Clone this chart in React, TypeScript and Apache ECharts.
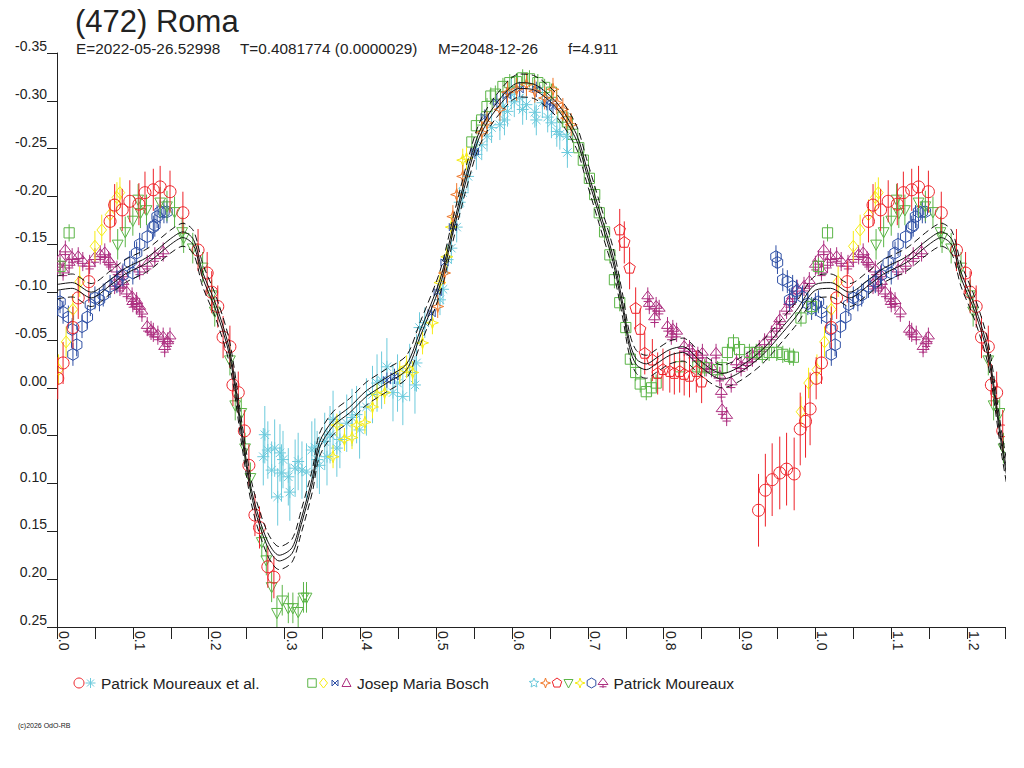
import { useEffect, useRef } from 'react';
import * as echarts from 'echarts';

type Pt = [number, number];

// phase, reduced magnitude
const redCircles: Pt[] = [
  [0.001, -0.010], [0.008, -0.026], [0.021, -0.063], [0.028, -0.094], [0.042, -0.111], [0.070, -0.174],
  [0.076, -0.191], [0.086, -0.186], [0.096, -0.195], [0.108, -0.192], [0.116, -0.204], [0.127, -0.207],
  [0.136, -0.210], [0.149, -0.205], [0.166, -0.183], [0.186, -0.144], [0.198, -0.120], [0.204, -0.100],
  [0.212, -0.085], [0.219, -0.053], [0.228, -0.043], [0.232, -0.003], [0.239, 0.005], [0.247, 0.045],
  [0.253, 0.081], [0.261, 0.133], [0.267, 0.146], [0.278, 0.187], [0.286, 0.198],
];
const redCirclesLate: Pt[] = [
  [0.925, 0.128], [0.934, 0.107], [0.943, 0.096], [0.953, 0.089], [0.962, 0.085], [0.972, 0.090],
  [0.980, 0.043], [0.987, 0.035], [0.993, 0.022],
];
const cyanMinimum: Pt[] = [
  [0.274, 0.049], [0.272, 0.072], [0.278, 0.065], [0.283, 0.086], [0.287, 0.063], [0.291, 0.114],
  [0.294, 0.068], [0.296, 0.089], [0.298, 0.075], [0.305, 0.093], [0.307, 0.109], [0.314, 0.084],
  [0.318, 0.077], [0.323, 0.086], [0.329, 0.088], [0.336, 0.065], [0.340, 0.062], [0.343, 0.075],
  [0.346, 0.081], [0.353, 0.056], [0.356, 0.072], [0.360, 0.049], [0.364, 0.033], [0.369, 0.063],
  [0.373, 0.054], [0.382, 0.037], [0.389, 0.031], [0.395, 0.028], [0.399, 0.044], [0.408, 0.020],
  [0.416, 0.007], [0.422, -0.005], [0.428, -0.008], [0.435, -0.022], [0.443, 0.005], [0.449, -0.005],
  [0.456, 0.009], [0.465, -0.016], [0.472, -0.003], [0.474, -0.026],
];
const cyanPeak: Pt[] = [
  [0.478, -0.063], [0.485, -0.068], [0.505, -0.092], [0.509, -0.103], [0.515, -0.134], [0.520, -0.146],
  [0.527, -0.168], [0.531, -0.194], [0.535, -0.204], [0.542, -0.221], [0.553, -0.244], [0.560, -0.254],
  [0.567, -0.263], [0.573, -0.272], [0.584, -0.275], [0.588, -0.294], [0.590, -0.280], [0.594, -0.289],
  [0.599, -0.307], [0.603, -0.299], [0.610, -0.303], [0.614, -0.291], [0.619, -0.296], [0.630, -0.288],
  [0.632, -0.280], [0.640, -0.298], [0.647, -0.283], [0.652, -0.277], [0.659, -0.268], [0.663, -0.265],
  [0.672, -0.263], [0.673, -0.246],
];
const greenSquares: Pt[] = [
  [0.004, -0.127], [0.016, -0.162], [0.547, -0.257], [0.553, -0.274], [0.560, -0.280], [0.567, -0.294],
  [0.572, -0.305], [0.578, -0.307], [0.588, -0.315], [0.597, -0.319], [0.606, -0.320], [0.614, -0.324],
  [0.623, -0.323], [0.634, -0.319], [0.643, -0.314], [0.652, -0.309], [0.667, -0.283], [0.673, -0.278],
  [0.680, -0.265], [0.688, -0.251], [0.694, -0.238], [0.702, -0.219], [0.709, -0.202], [0.715, -0.183],
  [0.722, -0.163], [0.729, -0.139], [0.735, -0.113], [0.742, -0.089], [0.750, -0.063], [0.756, -0.030],
  [0.763, -0.016], [0.769, -0.004], [0.777, 0.004], [0.784, 0.000], [0.790, -0.005], [0.821, -0.022],
  [0.845, -0.022], [0.854, -0.021], [0.871, -0.019], [0.877, -0.021], [0.884, -0.037], [0.892, -0.047],
  [0.900, -0.040], [0.913, -0.037], [0.922, -0.037], [0.930, -0.035], [0.939, -0.037], [0.949, -0.037],
  [0.957, -0.035], [0.966, -0.033], [0.971, -0.032], [0.981, -0.073], [0.995, -0.085],
];
const yellowDiamonds: Pt[] = [
  [0.002, -0.019], [0.012, -0.048], [0.021, -0.082], [0.030, -0.111], [0.050, -0.148], [0.059, -0.165],
  [0.070, -0.181], [0.079, -0.199], [0.083, -0.204], [0.981, 0.025], [0.991, -0.005],
];
const blueBowties: Pt[] = [
  [0.435, -0.008], [0.445, -0.012], [0.494, -0.078], [0.502, -0.100], [0.511, -0.131], [0.522, -0.168],
  [0.551, -0.247], [0.564, -0.283], [0.580, -0.299], [0.593, -0.306], [0.610, -0.312], [0.632, -0.312],
  [0.646, -0.298], [0.654, -0.294],
];
const orangeStars: Pt[] = [
  [0.502, -0.085], [0.511, -0.120], [0.522, -0.179], [0.527, -0.202], [0.535, -0.221], [0.560, -0.267],
  [0.567, -0.277], [0.584, -0.291], [0.594, -0.309], [0.606, -0.312], [0.619, -0.317], [0.630, -0.310],
  [0.643, -0.303], [0.654, -0.312], [0.659, -0.298], [0.667, -0.291], [0.672, -0.282], [0.678, -0.275],
];
const redPentagons: Pt[] = [
  [0.742, -0.165], [0.748, -0.152], [0.755, -0.125], [0.763, -0.083], [0.769, -0.061], [0.775, -0.036],
  [0.785, -0.029], [0.792, -0.015], [0.799, -0.019], [0.808, -0.017], [0.814, -0.015], [0.821, -0.017],
  [0.827, -0.014], [0.834, -0.012], [0.843, -0.017], [0.850, -0.006],
];
const greenTriangles: Pt[] = [
  [0.080, -0.150], [0.090, -0.163], [0.100, -0.175], [0.107, -0.197], [0.110, -0.183], [0.118, -0.186],
  [0.136, -0.194], [0.145, -0.190], [0.155, -0.184], [0.165, -0.163], [0.167, -0.157], [0.179, -0.146],
  [0.192, -0.126], [0.204, -0.097], [0.208, -0.080], [0.228, -0.029], [0.235, 0.018], [0.243, 0.026],
  [0.248, 0.063], [0.255, 0.094], [0.270, 0.161], [0.276, 0.180], [0.283, 0.208], [0.290, 0.235],
  [0.297, 0.222], [0.305, 0.230], [0.311, 0.230], [0.318, 0.234], [0.325, 0.219], [0.329, 0.219],
];
const yellowStars: Pt[] = [
  [0.364, 0.072], [0.369, 0.039], [0.379, 0.054], [0.389, 0.052], [0.395, 0.039], [0.406, 0.036],
  [0.416, 0.020], [0.422, 0.007], [0.432, 0.005], [0.452, -0.016], [0.461, -0.022], [0.469, -0.016],
  [0.482, -0.047], [0.495, -0.068], [0.505, -0.110], [0.514, -0.137], [0.520, -0.168], [0.535, -0.238],
  [0.540, -0.240],
];
const blueHexagons: Pt[] = [
  [0.000, -0.087], [0.004, -0.090], [0.008, -0.079], [0.015, -0.074], [0.020, -0.061], [0.021, -0.035],
  [0.026, -0.045], [0.033, -0.064], [0.040, -0.074], [0.044, -0.087], [0.050, -0.094], [0.056, -0.092],
  [0.061, -0.097], [0.070, -0.106], [0.079, -0.111], [0.087, -0.118], [0.096, -0.131], [0.100, -0.120],
  [0.105, -0.141], [0.109, -0.150], [0.119, -0.158], [0.127, -0.168], [0.129, -0.170], [0.132, -0.179],
  [0.136, -0.184], [0.141, -0.184], [0.145, -0.184], [0.948, -0.137], [0.950, -0.131], [0.957, -0.113],
  [0.963, -0.111], [0.966, -0.092], [0.970, -0.106], [0.975, -0.101], [0.983, -0.095], [0.990, -0.088],
  [0.995, -0.083],
];
const purpleMarks: Pt[] = [
  [0.000, -0.128], [0.004, -0.134], [0.008, -0.122], [0.011, -0.144], [0.016, -0.130], [0.020, -0.136],
  [0.028, -0.137], [0.034, -0.132], [0.043, -0.129], [0.050, -0.136], [0.057, -0.139], [0.063, -0.141],
  [0.068, -0.133], [0.070, -0.131], [0.079, -0.123], [0.086, -0.118], [0.076, -0.108], [0.083, -0.106],
  [0.087, -0.110], [0.092, -0.100], [0.099, -0.095], [0.100, -0.089], [0.105, -0.090], [0.109, -0.123],
  [0.119, -0.129], [0.129, -0.137], [0.140, -0.142], [0.105, -0.087], [0.109, -0.084], [0.112, -0.079],
  [0.119, -0.064], [0.124, -0.060], [0.127, -0.058], [0.133, -0.055], [0.140, -0.053], [0.142, -0.042],
  [0.146, -0.048], [0.149, -0.053],
  [0.779, -0.095], [0.781, -0.087], [0.788, -0.073], [0.790, -0.085], [0.794, -0.082], [0.805, -0.064],
  [0.810, -0.055], [0.812, -0.061], [0.817, -0.058], [0.827, -0.043], [0.834, -0.040], [0.838, -0.036],
  [0.845, -0.033], [0.851, -0.036], [0.856, -0.022], [0.863, -0.021], [0.869, -0.036], [0.874, -0.012],
  [0.876, 0.005], [0.877, 0.023], [0.883, 0.030], [0.889, -0.005], [0.896, -0.026], [0.902, -0.022],
  [0.910, -0.028], [0.917, -0.032], [0.926, -0.040], [0.933, -0.047], [0.942, -0.055], [0.949, -0.064],
  [0.953, -0.071], [0.962, -0.082], [0.966, -0.089], [0.970, -0.095], [0.976, -0.103], [0.985, -0.106],
  [0.992, -0.111],
];

// fitted model curve, one rotation
const modelCurve: Pt[] = [
  [0.000, -0.105], [0.020, -0.107], [0.045, -0.097], [0.070, -0.110], [0.090, -0.122], [0.120, -0.134],
  [0.150, -0.153], [0.166, -0.160], [0.180, -0.152], [0.192, -0.118], [0.210, -0.083], [0.228, -0.035],
  [0.245, 0.055], [0.258, 0.115], [0.277, 0.162], [0.293, 0.178], [0.310, 0.170], [0.322, 0.140],
  [0.337, 0.096], [0.346, 0.060], [0.364, 0.037], [0.386, 0.023], [0.408, 0.006], [0.435, -0.008],
  [0.461, -0.022], [0.478, -0.055], [0.505, -0.110], [0.522, -0.165], [0.540, -0.221], [0.557, -0.265],
  [0.580, -0.295], [0.610, -0.316], [0.630, -0.314], [0.659, -0.295], [0.685, -0.262], [0.698, -0.228],
  [0.715, -0.183], [0.733, -0.135], [0.746, -0.085], [0.755, -0.045], [0.764, -0.027], [0.777, -0.022],
  [0.790, -0.028], [0.808, -0.037], [0.825, -0.040], [0.847, -0.026], [0.864, -0.016], [0.877, -0.012],
  [0.900, -0.019], [0.930, -0.037], [0.957, -0.061], [0.975, -0.078], [1.000, -0.105],
];
// solid pair and dashed envelope around the model
const modelOffsets = [-0.003, 0.003];
const envelopeOffsets = [-0.012, 0.012];

const yRange = [-0.35, 0.25];
const xRange = [0, 1.25];

const RED = '#ee2229';
const CYAN = '#6ccadc';
const GREEN = '#5bb547';
const YELLOW = '#f6ec14';
const BLUE = '#2f50a5';
const PURPLE = '#ad2f80';
const ORANGE = '#f0782a';
const FONT = '"Liberation Sans", Arial, sans-serif';

type Shape =
  | 'circle' | 'square' | 'diamond' | 'bowtie' | 'triangle' | 'asterisk' | 'star5'
  | 'star4' | 'pentagon' | 'downTriangle' | 'hexagon' | 'mushroom';

const sessions: { points: Pt[]; shape: Shape; color: string; err: number }[] = [
  { points: purpleMarks, shape: 'mushroom', color: PURPLE, err: 0.01 },
  { points: blueHexagons, shape: 'hexagon', color: BLUE, err: 0.012 },
  { points: greenSquares, shape: 'square', color: GREEN, err: 0.009 },
  { points: cyanMinimum, shape: 'asterisk', color: CYAN, err: 0.03 },
  { points: cyanPeak, shape: 'asterisk', color: CYAN, err: 0.016 },
  { points: yellowStars, shape: 'star4', color: YELLOW, err: 0.012 },
  { points: blueBowties, shape: 'bowtie', color: BLUE, err: 0.008 },
  { points: orangeStars, shape: 'star4', color: ORANGE, err: 0.012 },
  { points: greenTriangles, shape: 'downTriangle', color: GREEN, err: 0.016 },
  { points: yellowDiamonds, shape: 'diamond', color: YELLOW, err: 0.016 },
  { points: redPentagons, shape: 'pentagon', color: RED, err: 0.022 },
  { points: redCircles, shape: 'circle', color: RED, err: 0.022 },
  { points: redCirclesLate, shape: 'circle', color: RED, err: 0.038 },
];

// phases up to 0.25 are shown again after 1.0
const wrap = (pts: Pt[], upTo = 0.25): Pt[] => {
  const all = pts.map((p) => [p[0], p[1]] as Pt);
  pts.forEach((p) => {
    const shifted = p[0] + 1;
    if (p[0] <= upTo && !all.some((q) => Math.abs(q[0] - shifted) < 1e-9)) all.push([shifted, p[1]]);
  });
  return all.sort((a, b) => a[0] - b[0]);
};

function regular(cx: number, cy: number, n: number, r: number) {
  const pts: number[][] = [];
  for (let i = 0; i < n; i++) {
    const a = -Math.PI / 2 + (i * 2 * Math.PI) / n;
    pts.push([cx + r * Math.cos(a), cy + r * Math.sin(a)]);
  }
  return pts;
}

function starPts(cx: number, cy: number, n: number, ro: number, ri: number) {
  const pts: number[][] = [];
  for (let i = 0; i < 2 * n; i++) {
    const a = -Math.PI / 2 + (i * Math.PI) / n;
    const r = i % 2 === 0 ? ro : ri;
    pts.push([cx + r * Math.cos(a), cy + r * Math.sin(a)]);
  }
  return pts;
}

function symbolParts(shape: Shape, cx: number, cy: number, s: number, color: string): any[] {
  const style = { fill: 'none', stroke: color, lineWidth: 1 };
  const poly = (points: number[][]) => ({ type: 'polygon', shape: { points }, style });
  const seg = (x1: number, y1: number, x2: number, y2: number) => ({ type: 'line', shape: { x1, y1, x2, y2 }, style });
  switch (shape) {
    case 'circle':
      return [{ type: 'circle', shape: { cx, cy, r: s }, style }];
    case 'square':
      return [{ type: 'rect', shape: { x: cx - s * 0.85, y: cy - s * 0.85, width: s * 1.7, height: s * 1.7 }, style }];
    case 'diamond':
      return [poly([[cx, cy - s], [cx + s * 0.8, cy], [cx, cy + s], [cx - s * 0.8, cy]])];
    case 'bowtie':
      return [poly([[cx - s * 0.6, cy - s * 0.6], [cx + s * 0.6, cy + s * 0.6], [cx + s * 0.6, cy - s * 0.6], [cx - s * 0.6, cy + s * 0.6]])];
    case 'triangle':
      return [poly([[cx, cy - s], [cx + s * 0.9, cy + s * 0.7], [cx - s * 0.9, cy + s * 0.7]])];
    case 'downTriangle':
      return [poly([[cx - s * 0.9, cy - s * 0.7], [cx + s * 0.9, cy - s * 0.7], [cx, cy + s]])];
    case 'pentagon':
      return [poly(regular(cx, cy, 5, s))];
    case 'hexagon':
      return [poly(regular(cx, cy, 6, s))];
    case 'star5':
      return [poly(starPts(cx, cy, 5, s, s * 0.45))];
    case 'star4':
      return [poly(starPts(cx, cy, 4, s, s * 0.35))];
    case 'asterisk':
      return [
        seg(cx - s, cy, cx + s, cy),
        seg(cx - s * 0.7, cy - s * 0.7, cx + s * 0.7, cy + s * 0.7),
        seg(cx - s * 0.7, cy + s * 0.7, cx + s * 0.7, cy - s * 0.7),
        seg(cx, cy - s, cx, cy + s),
      ];
    case 'mushroom':
    default:
      return [
        poly([[cx, cy - s], [cx + s, cy + s * 0.3], [cx - s, cy + s * 0.3]]),
        seg(cx - s * 0.7, cy + s * 0.75, cx + s * 0.7, cy + s * 0.75),
        seg(cx, cy + s * 0.3, cx, cy + s),
      ];
  }
}

function pointSeries(points: Pt[], shape: Shape, color: string, err: number) {
  return {
    type: 'custom',
    silent: true,
    clip: true,
    data: wrap(points),
    renderItem: (_params: any, api: any) => {
      const x = api.value(0);
      const y = api.value(1);
      const c = api.coord([x, y]);
      const top = api.coord([x, y - err]);
      const bot = api.coord([x, y + err]);
      return {
        type: 'group',
        children: [
          { type: 'line', shape: { x1: c[0], y1: top[1], x2: c[0], y2: bot[1] }, style: { stroke: color, lineWidth: 1 } },
          ...symbolParts(shape, c[0], c[1], 6, color),
        ],
      };
    },
  };
}

function modelLine(offset: number, dashed: boolean) {
  return {
    type: 'line',
    silent: true,
    showSymbol: false,
    smooth: 0.3,
    z: 5,
    data: wrap(modelCurve, 0.26).map((p) => [p[0], p[1] + offset]),
    lineStyle: { color: '#111', width: 1, type: dashed ? [7, 4] : 'solid' },
  };
}

const legendGroups: { shapes: [Shape, string][]; label: string; x: number }[] = [
  { shapes: [['circle', RED], ['asterisk', CYAN]], label: 'Patrick Moureaux et al.', x: 79 },
  { shapes: [['square', GREEN], ['diamond', YELLOW], ['bowtie', BLUE], ['triangle', PURPLE]], label: 'Josep Maria Bosch', x: 312 },
  {
    shapes: [['star5', CYAN], ['star4', ORANGE], ['pentagon', RED], ['downTriangle', GREEN], ['star4', YELLOW], ['hexagon', BLUE], ['mushroom', PURPLE]],
    label: 'Patrick Moureaux',
    x: 534,
  },
];

export default function App() {
  const chartRef = useRef<HTMLDivElement>(null);

  useEffect(() => {
    if (!chartRef.current) return;
    const chart = echarts.init(chartRef.current, null, { renderer: 'svg' });

    const legendEls: any[] = [];
    legendGroups.forEach((g) => {
      g.shapes.forEach(([shape, color], i) => {
        legendEls.push(...symbolParts(shape, g.x + i * 11.5, 683, 5, color));
      });
      legendEls.push({
        type: 'text',
        x: g.x + g.shapes.length * 11.5 - 1,
        y: 683,
        style: { text: g.label, font: `15.5px ${FONT}`, fill: '#222', textVerticalAlign: 'middle', verticalAlign: 'middle' },
      });
    });

    const subtitle = [
      { text: 'E=2022-05-26.52998', x: 76 },
      { text: 'T=0.4081774 (0.0000029)', x: 240 },
      { text: 'M=2048-12-26', x: 438 },
      { text: 'f=4.911', x: 568 },
    ];

    chart.setOption({
      animation: false,
      backgroundColor: '#fff',
      grid: { left: 57, right: 19, top: 53, bottom: 141 },
      xAxis: {
        type: 'value',
        min: xRange[0],
        max: xRange[1],
        interval: 0.05,
        axisLine: { onZero: false, lineStyle: { color: '#222', width: 1 } },
        axisTick: { show: true, length: 12, lineStyle: { color: '#222' } },
        splitLine: { show: false },
        axisLabel: {
          rotate: -90,
          margin: 4,
          verticalAlign: 'bottom',
          showMinLabel: true,
          showMaxLabel: true,
          color: '#222',
          fontSize: 14,
          fontFamily: FONT,
          formatter: (v: number) => {
            const k = Math.round(v * 20);
            return k % 2 === 0 ? (k / 20).toFixed(1) : '';
          },
        },
      },
      yAxis: {
        type: 'value',
        inverse: true,
        min: yRange[0],
        max: yRange[1],
        interval: 0.05,
        axisLine: { show: true, onZero: false, lineStyle: { color: '#222', width: 1 } },
        axisTick: { show: true, length: 10, lineStyle: { color: '#222' } },
        splitLine: { show: false },
        axisLabel: {
          margin: 10,
          verticalAlign: 'bottom',
          color: '#222',
          fontSize: 14,
          fontFamily: FONT,
          formatter: (v: number) => (Math.abs(v) < 1e-9 ? '0.00' : v.toFixed(2)),
        },
      },
      graphic: [
        {
          type: 'text',
          x: 75,
          y: 21,
          style: { text: '(472) Roma', font: `31px ${FONT}`, fill: '#222', textVerticalAlign: 'middle', verticalAlign: 'middle' },
        },
        ...subtitle.map((s) => ({
          type: 'text',
          x: s.x,
          y: 48,
          style: { text: s.text, font: `15.3px ${FONT}`, fill: '#222', textVerticalAlign: 'middle', verticalAlign: 'middle' },
        })),
        ...legendEls,
        {
          type: 'text',
          x: 18,
          y: 725,
          style: { text: '(c)2026 OdO-RB', font: `7px ${FONT}`, fill: '#222', textVerticalAlign: 'middle', verticalAlign: 'middle' },
        },
      ],
      series: [
        ...sessions.map((s) => pointSeries(s.points, s.shape, s.color, s.err)),
        ...modelOffsets.map((o) => modelLine(o, false)),
        ...envelopeOffsets.map((o) => modelLine(o, true)),
      ],
    } as any);

    return () => {
      chart.dispose();
    };
  }, []);

  return <div ref={chartRef} style={{ position: 'fixed', left: 0, top: 0, width: 1024, height: 768 }} />;
}
